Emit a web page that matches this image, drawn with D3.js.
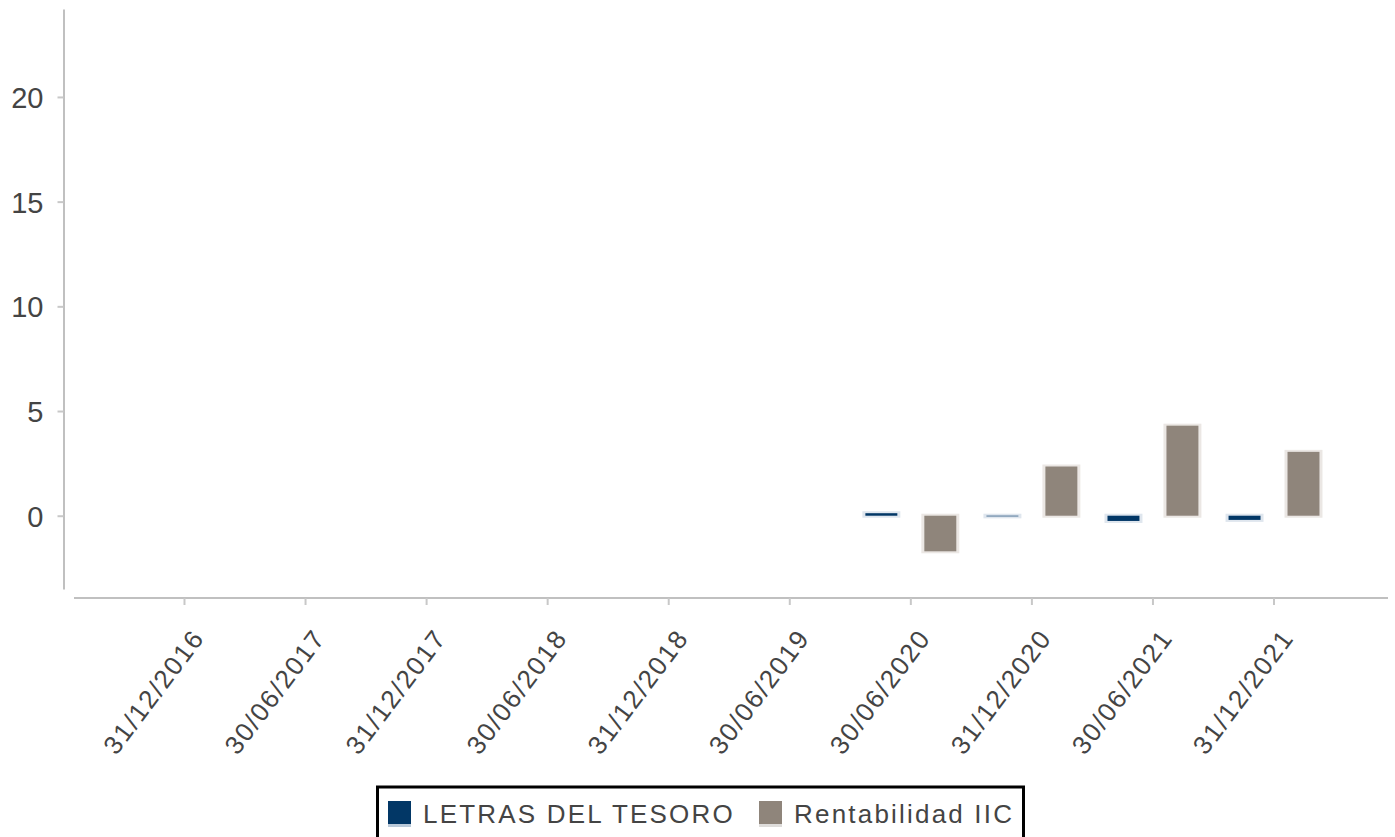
<!DOCTYPE html>
<html>
<head>
<meta charset="utf-8">
<script src="https://cdn.jsdelivr.net/npm/d3@7"></script>
<style>
  html, body { margin: 0; padding: 0; background: #fff; }
  svg { display: block; font-family: "Liberation Sans", Arial, sans-serif; }
</style>
</head>
<body>
<div id="chart"></div>
<script>
// data
const categories = ['31/12/2016', '30/06/2017', '31/12/2017', '30/06/2018', '31/12/2018',
  '30/06/2019', '30/06/2020', '31/12/2020', '30/06/2021', '31/12/2021'];
const letras = [null, null, null, null, null, null, 0.12, -0.03, -0.25, -0.2];
const rentabilidad = [null, null, null, null, null, null, -1.7, 2.35, 4.3, 3.05];
const seriesNames = ['LETRAS DEL TESORO', 'Rentabilidad IIC'];
const seriesColors = ['#023766', '#8f857b'];
const yTicks = [0, 5, 10, 15, 20];

const width = 1395;
const height = 837;

const svg = d3.select('#chart')
  .append('svg')
  .attr('width', width)
  .attr('height', height);

const y = d3.scaleLinear()
  .domain([-3.5, 24.2])
  .range([589, 9]);

const x0 = d3.scaleBand()
  .domain(categories)
  .range([78.5, 1380])
  .paddingInner(0.249)
  .paddingOuter(0.5);

const x1 = d3.scaleBand()
  .domain([0, 1])
  .range([0, x0.bandwidth()])
  .paddingInner(0.458);

// y axis
const yAxis = svg.append('g')
  .attr('transform', 'translate(63.5,0)')
  .call(d3.axisLeft(y).tickValues(yTicks).tickSize(6).tickSizeOuter(0).tickPadding(14));

yAxis.select('.domain').attr('stroke', '#c0c0c0').attr('stroke-width', 2);
yAxis.selectAll('.tick line').attr('stroke', '#c8c8c8').attr('stroke-width', 2);
yAxis.selectAll('.tick text')
  .attr('fill', '#444')
  .attr('font-size', 29)
  .attr('font-family', '"Liberation Sans", Arial, sans-serif')
  .attr('dy', '0.36em');

// x axis
const xAxisY = 598;
svg.append('line')
  .attr('x1', 74)
  .attr('x2', 1388)
  .attr('y1', xAxisY)
  .attr('y2', xAxisY)
  .attr('stroke', '#c0c0c0')
  .attr('stroke-width', 2);

const xAxis = svg.append('g')
  .attr('transform', `translate(0,${xAxisY})`)
  .call(d3.axisBottom(x0).tickSize(7).tickSizeOuter(0).tickFormat(''));

xAxis.select('.domain').remove();
xAxis.selectAll('.tick line').attr('stroke', '#c8c8c8').attr('stroke-width', 2);

svg.append('g')
  .selectAll('text')
  .data(categories)
  .join('text')
  .attr('transform', d => `translate(${x0(d) + x0.bandwidth() / 2 + 21},638) rotate(-53)`)
  .attr('text-anchor', 'end')
  .attr('font-size', 26)
  .attr('letter-spacing', 1.8)
  .attr('fill', '#444')
  .text(d => d);

// bars
const rows = categories.map((c, i) => ({ cat: c, values: [letras[i], rentabilidad[i]] }));

const groups = svg.append('g')
  .selectAll('g')
  .data(rows)
  .join('g')
  .attr('transform', d => `translate(${x0(d.cat)},0)`);

const cells = groups.selectAll('g')
  .data(d => d.values.map((v, k) => ({ k, v })).filter(e => e.v !== null))
  .join('g');

// soft edge behind each bar
cells.append('rect')
  .attr('x', d => x1(d.k) - 3)
  .attr('width', x1.bandwidth() + 6)
  .attr('y', d => Math.min(y(d.v), y(0)) - 2)
  .attr('height', d => Math.abs(y(d.v) - y(0)) + 4)
  .attr('fill', d => d.k === 0 ? '#dfe6ee' : '#ebe7e4');

cells.append('rect')
  .attr('x', d => x1(d.k))
  .attr('width', x1.bandwidth())
  .attr('y', d => Math.min(y(d.v), y(0)))
  .attr('height', d => Math.abs(y(d.v) - y(0)))
  .attr('fill', d => seriesColors[d.k]);

// legend
const legend = svg.append('g');

legend.append('rect')
  .attr('x', 377.5)
  .attr('y', 787)
  .attr('width', 646)
  .attr('height', 70)
  .attr('fill', '#fff')
  .attr('stroke', '#000')
  .attr('stroke-width', 3);

const legendX = [388, 759];

const items = legend.selectAll('g.item')
  .data(seriesNames)
  .join('g')
  .attr('class', 'item')
  .attr('transform', (d, i) => `translate(${legendX[i]},801)`);

items.append('rect')
  .attr('width', 23)
  .attr('height', 26)
  .attr('fill', (d, i) => i === 0 ? '#b9c9d9' : '#dedcda');

items.append('rect')
  .attr('width', 23)
  .attr('height', 23)
  .attr('fill', (d, i) => seriesColors[i]);

items.append('text')
  .attr('x', 35)
  .attr('y', 22)
  .attr('font-size', 26)
  .attr('letter-spacing', 2.2)
  .attr('fill', '#444')
  .text(d => d);
</script>
</body>
</html>
